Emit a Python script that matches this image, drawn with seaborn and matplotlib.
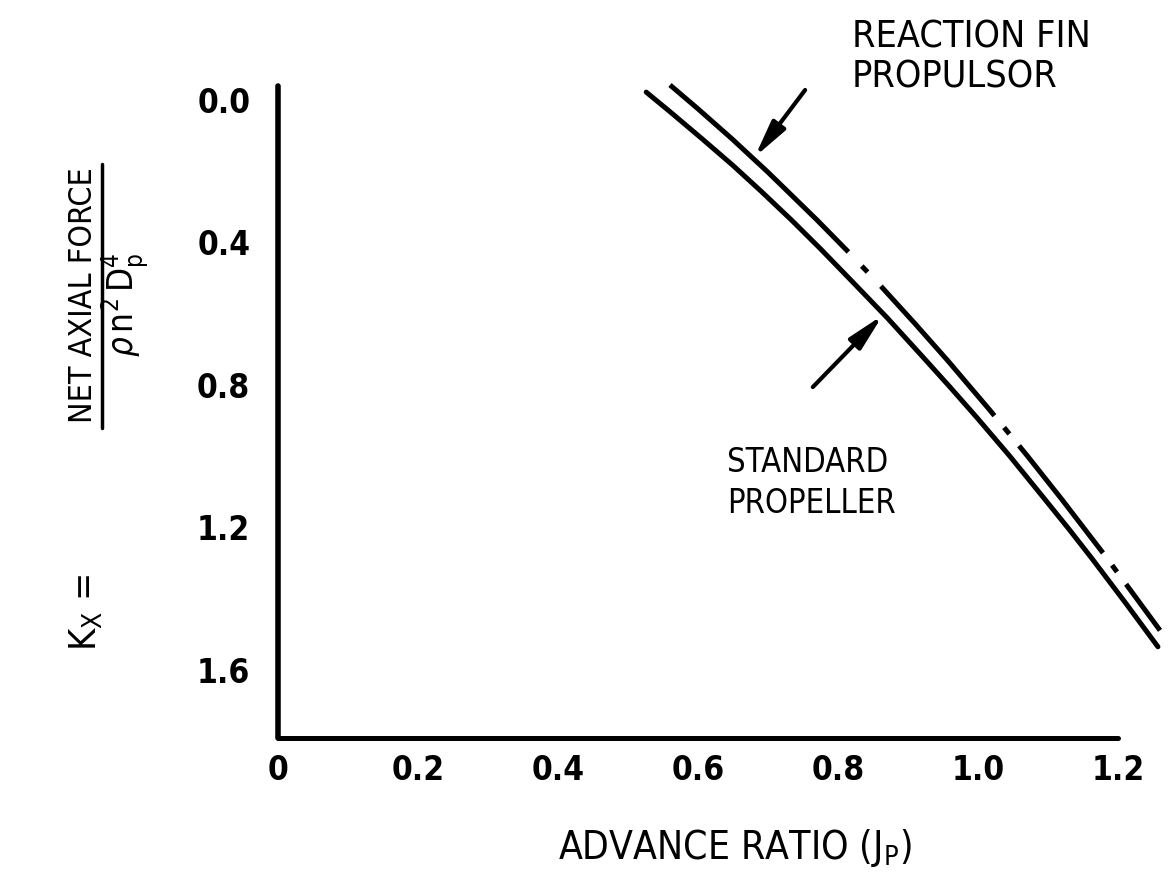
import numpy as np
import pandas as pd
import matplotlib
matplotlib.use("Agg")
import matplotlib.pyplot as plt
from matplotlib.lines import Line2D
import seaborn as sns

# Advance ratio J_P and net axial force coefficient K_X for each propulsor
j_standard = [0.526, 0.560, 0.607, 0.650, 0.690, 0.734, 0.775, 0.817, 0.870,
              0.921, 0.960, 0.999, 1.045, 1.093, 1.130, 1.163, 1.210, 1.257]
kx_standard = [-0.022, 0.033, 0.111, 0.184, 0.256, 0.338, 0.418, 0.503, 0.611,
               0.721, 0.806, 0.893, 0.999, 1.115, 1.205, 1.288, 1.410, 1.535]
j_fin = [0.560, 0.600, 0.649, 0.700, 0.770, 0.814, 0.860, 0.910, 0.956,
         1.017, 1.070, 1.120, 1.181, 1.220, 1.260]
kx_fin = [-0.042, 0.025, 0.110, 0.203, 0.337, 0.425, 0.520, 0.628, 0.730,
          0.871, 0.998, 1.122, 1.278, 1.382, 1.489]

x_ticks = [0.0, 0.2, 0.4, 0.6, 0.8, 1.0, 1.2]
x_tick_labels = ["0", "0.2", "0.4", "0.6", "0.8", "1.0", "1.2"]
y_ticks = [0.0, 0.4, 0.8, 1.2, 1.6]
y_tick_labels = ["0.0", "0.4", "0.8", "1.2", "1.6"]

sns.set_theme(style="white")
plt.rcParams["font.family"] = ["DejaVu Sans"]
plt.rcParams["font.stretch"] = "condensed"
plt.rcParams["mathtext.fontset"] = "custom"
plt.rcParams["mathtext.rm"] = "DejaVu Sans"
plt.rcParams["mathtext.it"] = "DejaVu Sans:italic"
plt.rcParams["mathtext.bf"] = "DejaVu Sans:bold"
plt.rcParams["lines.scale_dashes"] = False

W, H = 1171, 886
fig = plt.figure(figsize=(W / 100, H / 100), dpi=100)
fig.patch.set_facecolor("white")
ax = fig.add_axes([0.2374, 0.1675, 0.7592, 0.7438])
ax.set_facecolor("white")

df_std = pd.DataFrame({"J": j_standard, "KX": kx_standard})
df_fin = pd.DataFrame({"J": j_fin, "KX": kx_fin})

sns.lineplot(data=df_std, x="J", y="KX", sort=False, estimator=None,
             color="black", lw=3.6, ax=ax)
sns.lineplot(data=df_fin, x="J", y="KX", sort=False, estimator=None,
             color="black", lw=3.6, ax=ax)
for ln in ax.get_lines():
    ln.set_clip_on(False)
    ln.set_solid_capstyle("round")
    ln.set_solid_joinstyle("round")
# long dash / dot pattern for the reaction fin curve (points)
ax.get_lines()[1].set_dashes([176, 14, 6, 14, 124, 11, 6, 11, 98, 11, 6, 11, 150])

ax.set_xlim(0, 1.27)
ax.set_ylim(1.79, -0.06)

for side in ["top", "right"]:
    ax.spines[side].set_visible(False)
ax.spines["left"].set_linewidth(4.0)
ax.spines["left"].set_bounds(1.79, -0.04)
ax.spines["bottom"].set_linewidth(3.6)
ax.spines["bottom"].set_bounds(0, 1.2)
for sp in ax.spines.values():
    sp.set_color("black")
    sp.set_capstyle("round")

ax.set_xticks(x_ticks)
ax.set_xticklabels(x_tick_labels)
ax.set_yticks(y_ticks)
ax.set_yticklabels(y_tick_labels)
ax.tick_params(axis="y", direction="in", length=16, width=3, color="black",
               pad=20, labelsize=24, labelcolor="black")
ax.tick_params(axis="x", direction="in", length=17, width=3, color="black",
               pad=12, labelsize=24, labelcolor="black")
for lab in ax.get_xticklabels() + ax.get_yticklabels():
    lab.set_fontweight("bold")
ax.grid(False)

ax.set_xlabel(r"ADVANCE RATIO (J$_{\mathrm{P}}$)", fontsize=28, color="black")
ax.xaxis.set_label_coords(0.514, -0.1675)
ax.xaxis.label.set_va("center")
ax.set_ylabel("")

# curve call-outs
arrow_kw = dict(arrowstyle="-|>,head_length=1.0,head_width=0.22",
                color="black", lw=3.0, mutation_scale=22, shrinkA=0, shrinkB=0)
ax.annotate("", xy=(0.681, 0.160), xytext=(0.753, -0.028),
            arrowprops=arrow_kw, annotation_clip=False)
ax.annotate("", xy=(0.864, 0.604), xytext=(0.764, 0.806),
            arrowprops=arrow_kw, annotation_clip=False)
ax.text(0.82, -0.12, "REACTION FIN\nPROPULSOR", ha="left", va="center",
        fontsize=27, color="black", linespacing=1.15, clip_on=False)
ax.text(0.641, 1.075, "STANDARD\nPROPELLER", ha="left", va="center",
        fontsize=23.5, color="black", linespacing=1.3)

# vertical coefficient label: K_X = NET AXIAL FORCE / (rho n^2 D_p^4)
def fx(px):
    return px / W

def fy(py):
    return 1 - py / H

fig.text(fx(86), fy(612), r"K$_{\mathrm{X}}$ =", rotation=90, ha="center",
         va="center", fontsize=27, color="black")
fig.text(fx(84), fy(295), "NET AXIAL FORCE", rotation=90, ha="center",
         va="center", fontsize=23, color="black")
fig.add_artist(Line2D([fx(102), fx(102)], [fy(164), fy(428)],
                      transform=fig.transFigure, color="black", lw=2.5))
fig.text(fx(125), fy(305), r"$\rho\,\mathrm{n}^{2}\,\mathrm{D}_{\mathrm{p}}^{4}$",
         rotation=90, ha="center", va="center", fontsize=25, color="black")

fig.savefig("out.png", dpi=100, facecolor="white")
